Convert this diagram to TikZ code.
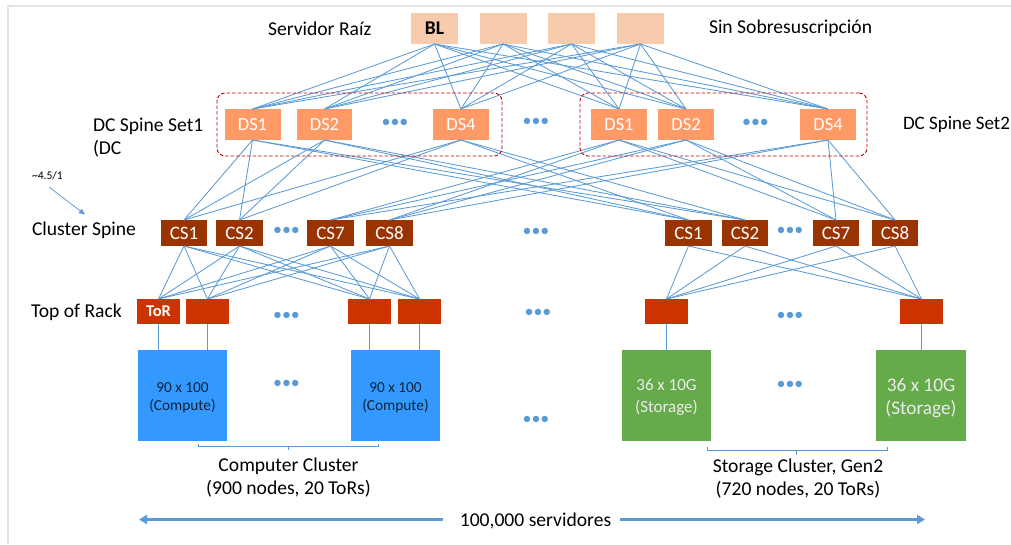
\documentclass[tikz,border=0pt]{standalone}
\usepackage{fontspec}
\setmainfont{Carlito}
\usetikzlibrary{arrows.meta}
\definecolor{linkblue}{HTML}{5B9BD5}
\definecolor{rootfill}{HTML}{F8CBAD}
\definecolor{dsfill}{HTML}{FF9966}
\definecolor{csfill}{HTML}{993300}
\definecolor{torfill}{HTML}{CC3300}
\definecolor{compfill}{HTML}{3399FF}
\definecolor{storfill}{HTML}{66AB4A}
\definecolor{setred}{HTML}{C00000}
\definecolor{framegray}{HTML}{E4E4E4}
\definecolor{comptext}{HTML}{10243A}
\newcommand\strutlow[1]{\rule{0pt}{#1pt}}
\tikzset{
  box/.style={inner sep=0pt,outer sep=0pt,anchor=center},
  rootbox/.style={box,fill=rootfill,minimum width=47pt,minimum height=31pt,text=black,font=\fontsize{19.5}{21}\selectfont\bfseries},
  dsbox/.style={box,fill=dsfill,minimum width=56pt,minimum height=31pt,text=white,font=\fontsize{18.5}{20}\selectfont},
  csbox/.style={box,fill=csfill,minimum width=46.5pt,minimum height=26pt,text=white,font=\fontsize{19}{20}\selectfont},
  torbox/.style={box,fill=torfill,minimum width=43pt,minimum height=25pt,text=white,font=\fontsize{16.5}{18}\selectfont\bfseries},
  compbox/.style={box,fill=compfill,minimum width=89pt,minimum height=91.5pt,text=comptext,align=center,font=\fontsize{15.3}{18}\selectfont},
  storbox/.style={box,fill=storfill,minimum width=89pt,minimum height=91.5pt,text=white!92!black,align=center,font=\fontsize{17}{22}\selectfont},
  setbox/.style={draw=setred,dash pattern=on 3.5pt off 2pt,line width=0.9pt,rounded corners=8pt,inner sep=0pt,outer sep=0pt,minimum width=285pt,minimum height=63pt},
  link/.style={draw=linkblue,line width=0.85pt},
  lbl/.style={inner sep=0pt,outer sep=0pt,text=black,font=\fontsize{19.6}{23}\selectfont},
  lblw/.style={lbl,anchor=west,align=left},
  lblc/.style={lbl,anchor=center,align=center},
  dots/.style={inner sep=0pt,outer sep=0pt,text=linkblue,font=\fontsize{18}{18}\selectfont},
  brace/.style={draw=linkblue,line width=0.8pt},
  fat/.style={draw=linkblue,line width=2.8pt,-{Triangle[length=8pt,width=9pt]}},
}
\begin{document}
\begin{tikzpicture}[x=1pt,y=-1pt]
\useasboundingbox (0,0) rectangle (1011,544);
% frame
\coordinate (fa) at (8,544);
\coordinate (fb) at (8,6);
\coordinate (fc) at (1011,6);
\draw[framegray,line width=1.2pt] (fa) -- (fb) -- (fc);
% root
\node[rootbox] (ra) at (434.5,28.5) {BL};
\node[rootbox] (rb) at (503,28.5) {};
\node[rootbox] (rc) at (571.5,28.5) {};
\node[rootbox] (rd) at (640.5,28.5) {};
% DC spine
\node[dsbox] (da) at (252.5,124.5) {DS1};
\node[dsbox,minimum width=55pt] (db) at (324.5,124.5) {DS2};
\node[dsbox] (dc) at (461,124.5) {DS4};
\node[dsbox] (dd) at (619,124.5) {DS1};
\node[dsbox] (de) at (686,124.5) {DS2};
\node[dsbox] (df) at (828,124.5) {DS4};
% cluster spine
\node[csbox] (ca) at (184,233) {CS1};
\node[csbox] (cb) at (239.5,233) {CS2};
\node[csbox] (cc) at (330.5,233) {CS7};
\node[csbox] (cd) at (389.5,233) {CS8};
\node[csbox] (ce) at (688.5,233) {CS1};
\node[csbox] (cf) at (745,233) {CS2};
\node[csbox] (cg) at (836,233) {CS7};
\node[csbox] (ch) at (895,233) {CS8};
% top of rack
\node[torbox] (ta) at (158.5,311.5) {ToR};
\node[torbox] (tb) at (207.5,311.5) {};
\node[torbox] (tc) at (369.5,311.5) {};
\node[torbox] (td) at (419.5,311.5) {};
\node[torbox] (te) at (666.5,311.5) {};
\node[torbox] (tf) at (921.5,311.5) {};
% servers
\node[compbox] (sa) at (182.5,395.25) {\strutlow{15}90 x 100\\(Compute)};
\node[compbox] (sb) at (395.5,395.25) {\strutlow{15}90 x 100\\(Compute)};
\node[storbox] (sc) at (666.5,395.25) {\strutlow{16}36 x 10G\\(Storage)};
\node[storbox,minimum width=90pt,font=\fontsize{19.3}{23}\selectfont] (sd) at (921,395.25) {\strutlow{19.5}36 x 10G\\(Storage)};
% links root - DC spine
\foreach \r in {ra,rb,rc,rd}
  \foreach \d in {da,db,dc,dd,de,df}
    \draw[link] (\r.south) -- (\d.north);
% links DC spine - cluster spine
\foreach \d in {da,db,dc}
  \foreach \c in {ca,cb,ce,cf}
    \draw[link] (\d.south) -- (\c.north);
\foreach \d in {dd,de,df}
  \foreach \c in {cc,cd,cg,ch}
    \draw[link] (\d.south) -- (\c.north);
% links cluster spine - ToR
\foreach \c in {ca,cb,cc,cd}
  \foreach \t in {ta,tb,tc,td}
    \draw[link] (\c.south) -- (\t.north);
\foreach \c in {ce,cf,cg,ch}
  \foreach \t in {te,tf}
    \draw[link] (\c.south) -- (\t.north);
% links ToR - servers
\draw[link] (ta.south) -- (ta.south |- sa.north);
\draw[link] (tb.south) -- (tb.south |- sa.north);
\draw[link] (tc.south) -- (tc.south |- sb.north);
\draw[link] (td.south) -- (td.south |- sb.north);
\draw[link] (te.south) -- (te.south |- sc.north);
\draw[link] (tf.south) -- (tf.south |- sd.north);
% dashed sets
\node[setbox] (setl) at (359.5,124.5) {};
\node[setbox,minimum width=287pt] (setr) at (723.5,124.5) {};
% dots
\node[dots] (d1) at (395,123) {•••};
\node[dots] (d2) at (536,122) {•••};
\node[dots] (d3) at (755.5,123) {•••};
\node[dots] (d4) at (286.5,231) {•••};
\node[dots] (d5) at (536,232.5) {•••};
\node[dots] (d6) at (790,231.5) {•••};
\node[dots] (d7) at (286.5,316) {•••};
\node[dots] (d8) at (538,313.5) {•••};
\node[dots] (d9) at (790,316.5) {•••};
\node[dots] (d10) at (286.5,384) {•••};
\node[dots] (d11) at (536,420) {•••};
\node[dots] (d12) at (790,385) {•••};
% labels
\node[lblw] (l1) at (268,28.5) {Servidor Raíz};
\node[lblw] (l2) at (709,28.5) {Sin Sobresuscripción};
\node[lblw] (l3) at (93,137.5) {DC Spine Set1\\(DC};
\node[lblw,font=\fontsize{19}{23}\selectfont] (l4) at (903,124.5) {DC Spine Set2};
\node[lblw] (l5) at (32,230.5) {Cluster Spine};
\node[lblw] (l6) at (31,312.5) {Top of Rack};
\node[lblw,font=\fontsize{11.6}{13}\selectfont] (l7) at (32,176) {\textasciitilde 4.5/1};
\node[lblc] (l8) at (288.5,478) {Computer Cluster\\(900 nodes, 20 ToRs)};
\node[lblc] (l9) at (798,479) {Storage Cluster, Gen2\\(720 nodes, 20 ToRs)};
\node[lblc] (l10) at (535.5,520.5) {100,000 servidores};
% small arrow
\coordinate (ara) at (49,187);
\coordinate (arb) at (85,214.5);
\draw[draw=linkblue,line width=0.75pt,-{Triangle[length=6pt,width=5pt]}] (ara) -- (arb);
% brackets
\coordinate (ba) at (198,443.5);
\coordinate (bb) at (378,443.5);
\draw[brace] (ba) -- (198,446.8) -- (378,446.8) -- (bb);
\draw[brace] (288,446.8) -- (288,450);
\coordinate (bc) at (707,447);
\coordinate (bd) at (887,447);
\draw[brace] (bc) -- (707,450.5) -- (887,450.5) -- (bd);
\draw[brace] (796.7,450.5) -- (796.7,454.5);
% long arrows
\coordinate (ea) at (139,519.5);
\coordinate (eb) at (925,519.5);
\draw[fat] ([xshift=-17pt]l10.west |- ea) -- (ea);
\draw[fat] ([xshift=9pt]l10.east |- eb) -- (eb);
\end{tikzpicture}
\end{document}
